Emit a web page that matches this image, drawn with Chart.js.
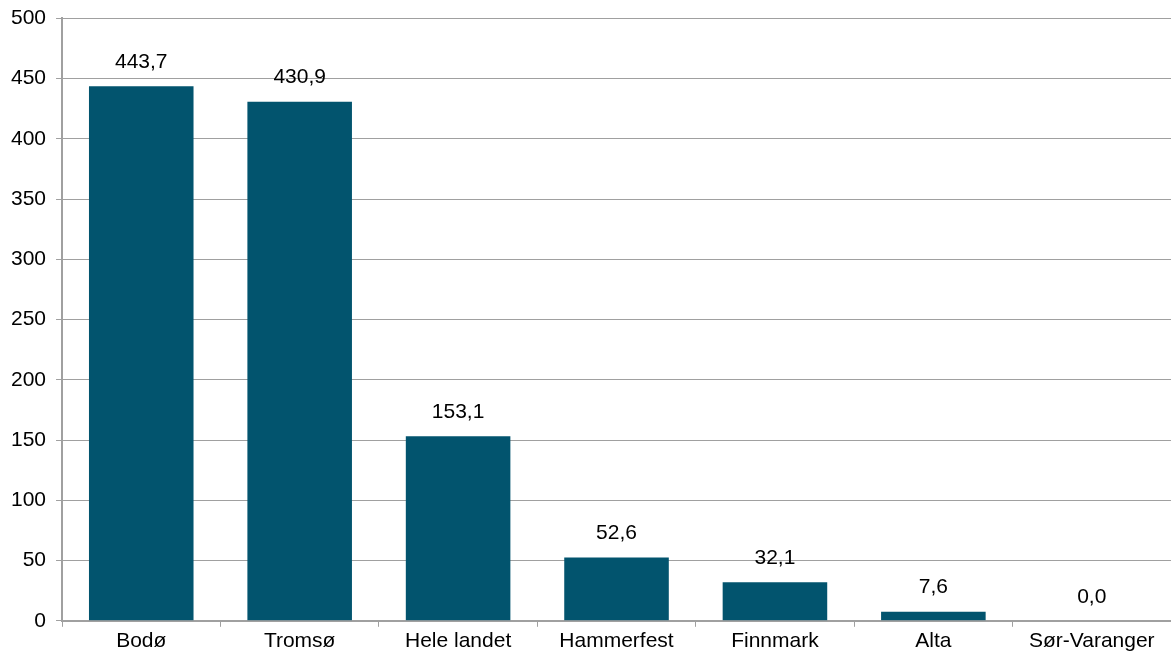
<!DOCTYPE html>
<html>
<head>
<meta charset="utf-8">
<script src="https://cdn.jsdelivr.net/npm/chart.js@4/dist/chart.umd.min.js"></script>
<style>
  html, body { margin: 0; padding: 0; background: #fff; }
  #wrap { width: 1171px; height: 657px; }
</style>
</head>
<body>
<div id="wrap"><canvas id="barChart"></canvas></div>
<script>
// data
const kategorier = ["Bodø", "Tromsø", "Hele landet", "Hammerfest", "Finnmark", "Alta", "Sør-Varanger"];
const verdier = [443.7, 430.9, 153.1, 52.6, 32.1, 7.6, 0.0];
const yMin = 0;
const yMax = 500;
const yStep = 50;

const gra = '#a0a0a0';
const font = "'Liberation Sans', Arial, sans-serif";

// etiketter over søylene
const verdiEtiketter = {
    id: 'verdiEtiketter',
    afterDatasetsDraw(chart) {
        const ctx = chart.ctx;
        const meta = chart.getDatasetMeta(0);
        ctx.save();
        ctx.font = '21px ' + font;
        ctx.fillStyle = '#000';
        ctx.textAlign = 'center';
        ctx.textBaseline = 'middle';
        meta.data.forEach((bar, i) => {
            const txt = verdier[i].toFixed(1).replace('.', ',');
            ctx.fillText(txt, bar.x, bar.y - 24);
        });
        ctx.restore();
    }
};

new Chart(document.getElementById("barChart"), {
    type: 'bar',
    data: {
        labels: kategorier,
        datasets: [{
            data: verdier,
            backgroundColor: '#02546e',
            borderWidth: 0,
            categoryPercentage: 0.66,
            barPercentage: 1
        }]
    },
    options: {
        responsive: true,
        maintainAspectRatio: false,
        animation: false,
        layout: { padding: { top: 2, right: 0, left: 1, bottom: 1 } },
        plugins: {
            legend: { display: false },
            tooltip: { enabled: false }
        },
        scales: {
            x: {
                offset: true,
                grid: {
                    offset: true,
                    drawOnChartArea: false,
                    color: gra,
                    tickLength: 6
                },
                border: { color: gra, width: 2 },
                ticks: {
                    color: '#000',
                    font: { family: font, size: 21 },
                    padding: 2,
                    maxRotation: 0
                }
            },
            y: {
                min: yMin,
                max: yMax,
                grid: { color: gra, tickLength: 6, lineWidth: 1 },
                border: { color: gra, width: 2 },
                ticks: {
                    stepSize: yStep,
                    color: '#000',
                    font: { family: font, size: 21, lineHeight: 0.8 },
                    padding: 10
                }
            }
        }
    },
    plugins: [verdiEtiketter]
});
</script>
</body>
</html>
